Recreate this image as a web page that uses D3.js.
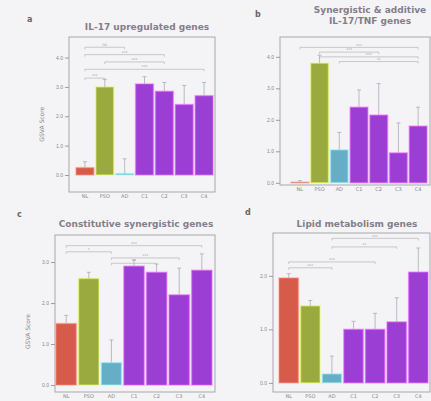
<!DOCTYPE html>
<html>
<head>
<meta charset="utf-8">
<script src="https://cdn.jsdelivr.net/npm/d3@7"></script>
<style>
  body { margin: 0; background: #f4f4f6; }
  svg { display: block; font-family: "DejaVu Sans", sans-serif; }
</style>
</head>
<body>
<svg id="chart" width="431" height="401"></svg>
<script>
// Groups on the x axis
const groups = ["NL", "PSO", "AD", "C1", "C2", "C3", "C4"];
const groupColors = ["#d65b4b", "#9aaa3e", "#66aec6", "#9b3ed3", "#9b3ed3", "#9b3ed3", "#9b3ed3"];

// Mean scores and upper error per panel
const il17Values = [0.25, 3.0, 0.05, 3.1, 2.85, 2.4, 2.7];
const il17Errors = [0.2, 0.25, 0.5, 0.25, 0.3, 0.65, 0.45];

const synergyValues = [0.02, 3.8, 1.05, 2.4, 2.15, 0.95, 1.8];
const synergyErrors = [0.05, 0.25, 0.55, 0.55, 1.0, 0.95, 0.6];

const constitutiveValues = [1.5, 2.6, 0.55, 2.9, 2.75, 2.2, 2.8];
const constitutiveErrors = [0.2, 0.15, 0.55, 0.15, 0.2, 0.65, 0.4];

const lipidValues = [1.96, 1.44, 0.17, 1.0, 1.0, 1.14, 2.07];
const lipidErrors = [0.08, 0.1, 0.33, 0.15, 0.3, 0.45, 0.45];

// Significance brackets: [from group, to group, height, label]
const il17Brackets = [[0, 2, 4.35, "ns"], [0, 4, 4.1, "***"], [1, 4, 3.85, "***"], [0, 6, 3.6, "***"], [0, 1, 3.3, "***"]];
const synergyBrackets = [[0, 6, 4.3, "***"], [1, 4, 4.15, "***"], [1, 6, 4.0, "***"], [2, 6, 3.85, "**"]];
const constitutiveBrackets = [[0, 6, 3.4, "***"], [0, 2, 3.25, "*"], [2, 5, 3.1, "***"], [2, 4, 2.97, "**"]];
const lipidBrackets = [[2, 6, 2.7, "***"], [2, 5, 2.54, "**"], [0, 4, 2.26, "***"], [0, 2, 2.15, "***"]];

const yTicksA = [0, 1, 2, 3, 4];
const yTicksB = [0, 1, 2, 3, 4];
const yTicksC = [0, 1, 2, 3];
const yTicksD = [0, 1, 2];

const svg = d3.select("#chart");

const panels = [
    { letter: "a", lx: 27, ly: 22, title: ["IL-17 upregulated genes"], tx: 147, ty: 30,
      values: il17Values, errors: il17Errors, brackets: il17Brackets, ticks: yTicksA,
      frame: [69, 37, 215, 192], xr: [76, 213], yd: [-0.58, 4.7], ylabel: true },
    { letter: "b", lx: 255, ly: 17, title: ["Synergistic & additive", "IL-17/TNF genes"], tx: 370, ty: 13,
      values: synergyValues, errors: synergyErrors, brackets: synergyBrackets, ticks: yTicksB,
      frame: [280, 37, 430, 185], xr: [291, 427], yd: [-0.07, 4.63], ylabel: false },
    { letter: "c", lx: 17, ly: 217, title: ["Constitutive synergistic genes"], tx: 136, ty: 227,
      values: constitutiveValues, errors: constitutiveErrors, brackets: constitutiveBrackets, ticks: yTicksC,
      frame: [55, 235, 215, 392], xr: [56, 212], yd: [-0.17, 3.66], ylabel: true },
    { letter: "d", lx: 245, ly: 215, title: ["Lipid metabolism genes"], tx: 357, ty: 227,
      values: lipidValues, errors: lipidErrors, brackets: lipidBrackets, ticks: yTicksD,
      frame: [273, 233, 430, 392], xr: [279, 428], yd: [-0.17, 2.8], ylabel: false }
];

panels.forEach(p => {
    const [x0, y0, x1, y1] = p.frame;
    const g = svg.append("g");

    const x = d3.scaleBand().domain(groups).range(p.xr).paddingInner(0.1).paddingOuter(0);
    const y = d3.scaleLinear().domain(p.yd).range([y1, y0]);

    // panel letter and title
    g.append("text").attr("x", p.lx).attr("y", p.ly)
        .attr("font-size", 8).attr("font-weight", "bold").attr("fill", "#666").text(p.letter);
    p.title.forEach((t, i) => {
        g.append("text").attr("x", p.tx).attr("y", p.ty + i * 11)
            .attr("text-anchor", "middle").attr("font-size", 9).attr("font-weight", "bold")
            .attr("fill", "#857d8c").text(t);
    });

    // frame
    g.append("rect").attr("x", x0).attr("y", y0).attr("width", x1 - x0).attr("height", y1 - y0)
        .attr("fill", "none").attr("stroke", "#a8a8ae").attr("stroke-width", 1);

    // y axis
    const axis = g.append("g").attr("transform", `translate(${x0},0)`)
        .call(d3.axisLeft(y).tickValues(p.ticks).tickSize(4).tickPadding(2));
    axis.select(".domain").remove();
    axis.selectAll("line").attr("stroke", "#9a9aa0");
    axis.selectAll("text").attr("font-size", 5).attr("fill", "#888");

    if (p.ylabel) {
        g.append("text")
            .attr("transform", `translate(${x0 - 25},${(y(p.ticks[0]) + y(p.ticks[p.ticks.length - 1])) / 2 + 8}) rotate(-90)`)
            .attr("text-anchor", "middle").attr("font-size", 6).attr("fill", "#888").text("GSVA Score");
    }

    // bars
    g.selectAll(".bar").data(p.values).enter().append("rect")
        .attr("x", (d, i) => x(groups[i]))
        .attr("y", d => y(Math.max(d, 0)))
        .attr("width", x.bandwidth())
        .attr("height", d => Math.abs(y(d) - y(0)))
        .attr("fill", (d, i) => groupColors[i])
        .attr("stroke", (d, i) => d3.color(groupColors[i]).brighter(1.2))
        .attr("stroke-opacity", 0.5)
        .attr("stroke-width", 1.5);

    // error bars
    p.values.forEach((v, i) => {
        const cx = x(groups[i]) + x.bandwidth() / 2;
        const top = y(v + p.errors[i]);
        g.append("line").attr("x1", cx).attr("x2", cx).attr("y1", y(v)).attr("y2", top)
            .attr("stroke", "#b0a8b8").attr("stroke-width", 0.8);
        g.append("line").attr("x1", cx - 2).attr("x2", cx + 2).attr("y1", top).attr("y2", top)
            .attr("stroke", "#b0a8b8").attr("stroke-width", 0.8);
    });

    // significance brackets
    p.brackets.forEach(([a, b, h, lab]) => {
        const xa = x(groups[a]) + x.bandwidth() / 2;
        const xb = x(groups[b]) + x.bandwidth() / 2;
        const yy = y(h);
        g.append("path")
            .attr("d", `M${xa},${yy + 2}V${yy}H${xb}V${yy + 2}`)
            .attr("fill", "none").attr("stroke", "#b4b4ba").attr("stroke-width", 0.7);
        g.append("text").attr("x", (xa + xb) / 2).attr("y", yy - 0.8)
            .attr("text-anchor", "middle").attr("font-size", 4).attr("fill", "#999").text(lab);
    });

    // x labels
    g.selectAll(".xl").data(groups).enter().append("text")
        .attr("x", d => x(d) + x.bandwidth() / 2)
        .attr("y", y1 + 6)
        .attr("text-anchor", "middle").attr("font-size", 5).attr("fill", "#888")
        .text(d => d);
});
</script>
</body>
</html>
